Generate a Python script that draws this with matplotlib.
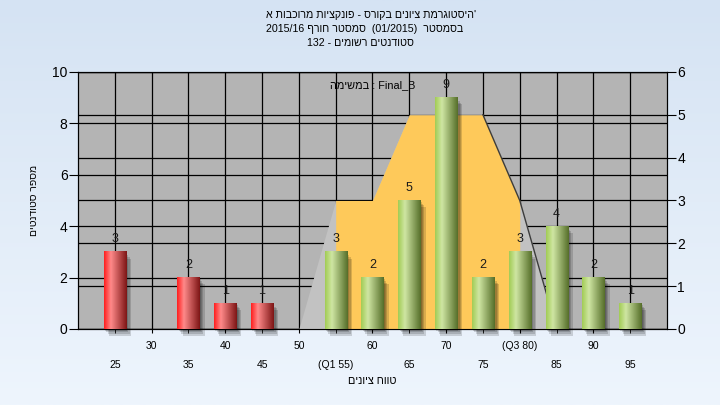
import re
import numpy as np
import matplotlib
matplotlib.use('Agg')
import matplotlib.pyplot as plt
from matplotlib.colors import to_rgb, LinearSegmentedColormap
from matplotlib.patches import Rectangle

plt.rcParams['font.family'] = ['Liberation Sans', 'DejaVu Sans']

# נתוני ההיסטוגרמה
grades = [25, 30, 35, 40, 45, 50, 55, 60, 65, 70, 75, 80, 85, 90, 95]
counts = [3, 0, 2, 1, 1, 0, 3, 2, 5, 9, 2, 3, 4, 2, 1]
grade_labels = ['25', '30', '35', '40', '45', '50', '(Q1 55)', '60', '65',
                '70', '75', '(Q3 80)', '85', '90', '95']
band = [0, 0, 0, 0, 0, 0, 3, 3, 5, 5, 5, 3, 0, 0, 0]   # ציר ימני
pass_grade = 55
q1, q3 = 55, 80

title_lines = ["'היסטוגרמת ציונים בקורס - פונקציות מרוכבות א",
               'בסמסטר  (01/2015)  סמסטר חורף 2015/16',
               'סטודנטים רשומים - 132']
legend_txt = 'Final_B : במשימה'
xlabel = 'טווח ציונים'
ylabel = 'מספר סטודנטים'


def vis(s):
    # matplotlib draws left to right only, so flip rtl text to display order
    r = s[::-1]
    r = re.sub(r'[0-9A-Za-z_./]+', lambda m: m.group(0)[::-1], r)
    return r.translate(str.maketrans('()', ')('))


def gradient(c_left, c_hi, c_right, n=64):
    cmap = LinearSegmentedColormap.from_list('g', [(0, c_left), (0.3, c_hi), (1, c_right)])
    return cmap(np.linspace(0, 1, n))[None, :, :3]


fig = plt.figure(figsize=(7.2, 4.05), dpi=100)

# רקע מדורג
bg = fig.add_axes([0, 0, 1, 1], zorder=-10)
c_top = np.array(to_rgb('#d5e3f3'))
c_bot = np.array(to_rgb('#eef5fd'))
t = np.linspace(0, 1, 256)[:, None, None]
bg.imshow(c_top + (c_bot - c_top) * t, aspect='auto', extent=[0, 1, 0, 1])
bg.axis('off')

ax = fig.add_axes([0.1083, 0.1877, 0.8181, 0.6346])
ax2 = ax.twinx()
ax.set_zorder(2)
ax2.set_zorder(1)
ax.patch.set_visible(False)
ax2.patch.set_visible(True)
ax2.patch.set_facecolor('#b4b4b4')

x = np.arange(len(grades))
g = np.array(grades)
b = np.array(band)

# grid of the right axis sits under everything
ax2.set_ylim(0, 6)
ax2.set_yticks(range(7))
ax2.grid(axis='y', color='black', lw=0.9)
ax2.set_axisbelow(True)
ax2.tick_params(axis='y', length=6.5, pad=1, labelsize=10)

# אזור הרקע (ציר ימני) מעל הרשת
ax.fill_between(x, b, color='#c2c2c2', lw=0, transform=ax2.transData, zorder=1)
mid = (g >= q1) & (g <= q3)
ax.fill_between(x, b, where=mid, color='#fec95a', lw=0,
                transform=ax2.transData, zorder=1.1)
top_end = np.where(b == b.max())[0][-1]
zero_after = top_end + np.argmax(b[top_end:] == 0)
ax.plot(x[top_end:zero_after + 1], b[top_end:zero_after + 1], color='#3c3c3c',
        lw=1, transform=ax2.transData, zorder=1.2)

# עמודות
w = 0.6
red = gradient('#ff1f1f', '#ff8a8a', '#7e1616')
green = gradient('#a2cc55', '#cfe6a3', '#566f2a')
for xi, gr, c in zip(x, grades, counts):
    if c == 0:
        continue
    for k in range(1, 5):
        ax.add_patch(Rectangle((xi - w / 2 + 0.035 * k, -0.065 * k), w, c,
                               color='black', alpha=0.15, lw=0, zorder=2, clip_on=False))
    ax.imshow(red if gr < pass_grade else green, extent=[xi - w / 2, xi + w / 2, 0, c],
              aspect='auto', zorder=3, interpolation='bilinear')
    ax.annotate(str(c), (xi, c), xytext=(0, 9), textcoords='offset points',
                ha='center', va='center', fontsize=9, color='#1a1a1a', zorder=4)

ax.set_xlim(-1, len(grades))
ax.set_ylim(0, 10)
ax.set_yticks(range(0, 11, 2))
ax.set_xticks(x[1::2])
ax.set_xticklabels(grade_labels[1::2])
ax.set_xticks(x[0::2], minor=True)
ax.set_xticklabels(grade_labels[0::2], minor=True)
ax.tick_params(axis='x', which='both', length=3, labelsize=7.5)
ax.tick_params(axis='x', which='major', pad=6)
ax.tick_params(axis='x', which='minor', pad=19)
ax.tick_params(axis='y', length=6.5, pad=1, labelsize=10)
ax.grid(axis='x', which='both', color='black', lw=0.9)
ax.grid(axis='y', which='major', color='black', lw=0.9)
ax.set_axisbelow(True)

ax.text(0.5, 0.95, vis(legend_txt), transform=ax.transAxes, ha='center',
        va='center', fontsize=7.8, zorder=5)
ax.text(0.5, -0.202, vis(xlabel), transform=ax.transAxes, ha='center',
        va='center', fontsize=7.8)
ax.text(-0.075, 0.5, vis(ylabel), transform=ax.transAxes, ha='center',
        va='center', rotation=90, fontsize=7.5)

for txt, xc, yp in zip(title_lines, [371, 365, 360], [15, 29, 43]):
    fig.text(xc / 720, 1 - yp / 405, vis(txt), ha='center', va='center', fontsize=7.7)

fig.savefig('out.png', dpi=100)
